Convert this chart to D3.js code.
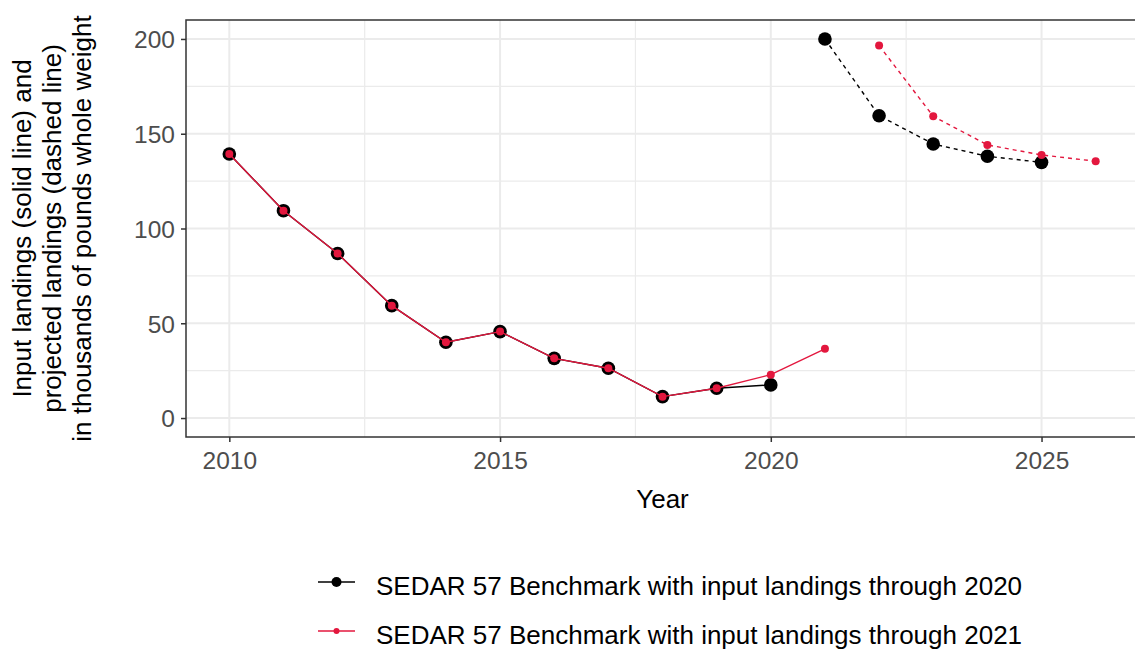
<!DOCTYPE html>
<html lang="en">
<head>
<meta charset="utf-8">
<title>Landings</title>
<script src="https://d3js.org/d3.v7.js"></script>
<style>
  body { margin: 0; background: #fff; }
  text { font-family: "Liberation Sans", Arial, sans-serif; }
</style>
</head>
<body>
<div id="my_dataviz"></div>
<script>

// data
const histYears2020 = [2010, 2011, 2012, 2013, 2014, 2015, 2016, 2017, 2018, 2019, 2020];
const histLand2020  = [139.3, 109.4, 86.8, 59.3, 40.0, 45.6, 31.5, 26.3, 11.3, 15.7, 17.5];
const projYears2020 = [2021, 2022, 2023, 2024, 2025];
const projLand2020  = [200.0, 159.5, 144.6, 138.1, 134.9];

const histYears2021 = [2010, 2011, 2012, 2013, 2014, 2015, 2016, 2017, 2018, 2019, 2020, 2021];
const histLand2021  = [139.3, 109.4, 86.8, 59.3, 40.0, 45.6, 31.5, 26.3, 11.3, 15.7, 22.9, 36.5];
const projYears2021 = [2022, 2023, 2024, 2025, 2026];
const projLand2021  = [196.5, 159.2, 144.1, 138.8, 135.5];

const xTicks = [2010, 2015, 2020, 2025];
const xMinor = [2012.5, 2017.5, 2022.5];
const yTicks = [0, 50, 100, 150, 200];
const yMinor = [25, 75, 125, 175];

const seriesNames = ["SEDAR 57 Benchmark with input landings through 2020",
                     "SEDAR 57 Benchmark with input landings through 2021"];
const seriesColors = ["#000000", "#E3173E"];

const W = 1135, H = 650;
const panel = {left: 186, right: 1139, top: 20, bottom: 437};

const svg = d3.select("#my_dataviz")
  .append("svg")
    .attr("width", W)
    .attr("height", H);

const x = d3.scaleLinear()
  .domain([2009.2, 2026.8])
  .range([panel.left, panel.right]);

const y = d3.scaleLinear()
  .domain([-10, 210])
  .range([panel.bottom, panel.top]);

// grid
const grid = svg.append("g");
grid.selectAll(".ym").data(yMinor).enter().append("line")
  .attr("x1", panel.left).attr("x2", panel.right)
  .attr("y1", d => y(d)).attr("y2", d => y(d))
  .attr("stroke", "#ebebeb").attr("stroke-width", 1.2);
grid.selectAll(".xm").data(xMinor).enter().append("line")
  .attr("y1", panel.top).attr("y2", panel.bottom)
  .attr("x1", d => x(d)).attr("x2", d => x(d))
  .attr("stroke", "#ebebeb").attr("stroke-width", 1.2);
grid.selectAll(".yM").data(yTicks).enter().append("line")
  .attr("x1", panel.left).attr("x2", panel.right)
  .attr("y1", d => y(d)).attr("y2", d => y(d))
  .attr("stroke", "#ebebeb").attr("stroke-width", 2);
grid.selectAll(".xM").data(xTicks).enter().append("line")
  .attr("y1", panel.top).attr("y2", panel.bottom)
  .attr("x1", d => x(d)).attr("x2", d => x(d))
  .attr("stroke", "#ebebeb").attr("stroke-width", 2);

// axes
const xAxis = svg.append("g")
  .attr("transform", `translate(0, ${panel.bottom})`)
  .call(d3.axisBottom(x).tickValues(xTicks).tickFormat(d3.format("d")).tickSize(5).tickPadding(5));
const yAxis = svg.append("g")
  .attr("transform", `translate(${panel.left}, 0)`)
  .call(d3.axisLeft(y).tickValues(yTicks).tickSize(5).tickPadding(6));

[xAxis, yAxis].forEach(a => {
  a.select(".domain").remove();
  a.selectAll(".tick line").attr("stroke", "#333333").attr("stroke-width", 1.5);
  a.selectAll(".tick text")
    .attr("fill", "#4d4d4d")
    .style("font-size", "24.5px");
});
xAxis.selectAll(".tick text").attr("dy", "0.9em");
yAxis.selectAll(".tick text").attr("dy", "0.36em");

// series
const line = d3.line().x(d => x(d[0])).y(d => y(d[1]));
const zip = (a, b) => a.map((v, i) => [v, b[i]]);

function drawSeries(hx, hy, px, py, color, r) {
  const g = svg.append("g");
  g.append("path").datum(zip(hx, hy))
    .attr("d", line).attr("fill", "none")
    .attr("stroke", color).attr("stroke-width", 1.4);
  g.append("path").datum(zip(px, py))
    .attr("d", line).attr("fill", "none")
    .attr("stroke", color).attr("stroke-width", 1.4)
    .attr("stroke-dasharray", "4,4");
  g.selectAll("circle").data(zip(hx, hy).concat(zip(px, py))).enter()
    .append("circle")
      .attr("cx", d => x(d[0]))
      .attr("cy", d => y(d[1]))
      .attr("r", r)
      .attr("fill", color);
}
drawSeries(histYears2020, histLand2020, projYears2020, projLand2020, seriesColors[0], 6.8);
drawSeries(histYears2021, histLand2021, projYears2021, projLand2021, seriesColors[1], 4);

// panel border
svg.append("rect")
  .attr("x", panel.left).attr("y", panel.top)
  .attr("width", panel.right - panel.left)
  .attr("height", panel.bottom - panel.top)
  .attr("fill", "none")
  .attr("stroke", "#333333").attr("stroke-width", 1.5);

// axis titles
svg.append("text")
  .attr("x", (panel.left + panel.right) / 2)
  .attr("y", 508)
  .attr("text-anchor", "middle")
  .style("font-size", "26px")
  .text("Year");

const yTitle = ["Input landings (solid line) and",
                "projected landings (dashed line)",
                "in thousands of pounds whole weight"];
svg.selectAll(".ytitle").data(yTitle).enter().append("text")
  .attr("transform", (d, i) => `translate(${30.5 + i * 30}, ${(panel.top + panel.bottom) / 2}) rotate(-90)`)
  .attr("text-anchor", "middle")
  .style("font-size", "26px")
  .text(d => d);

// legend
const legend = svg.append("g");
const legY = [582, 631];
seriesNames.forEach((name, i) => {
  const g = legend.append("g").attr("transform", `translate(0, ${legY[i]})`);
  g.append("line")
    .attr("x1", 318).attr("x2", 355)
    .attr("stroke", seriesColors[i]).attr("stroke-width", 1.4);
  g.append("circle")
    .attr("cx", 336.5).attr("r", i === 0 ? 5 : 3)
    .attr("fill", seriesColors[i]);
  g.append("text")
    .attr("x", 376).attr("y", 12.5)
    .style("font-size", "26px")
    .text(name);
});

</script>
</body>
</html>
